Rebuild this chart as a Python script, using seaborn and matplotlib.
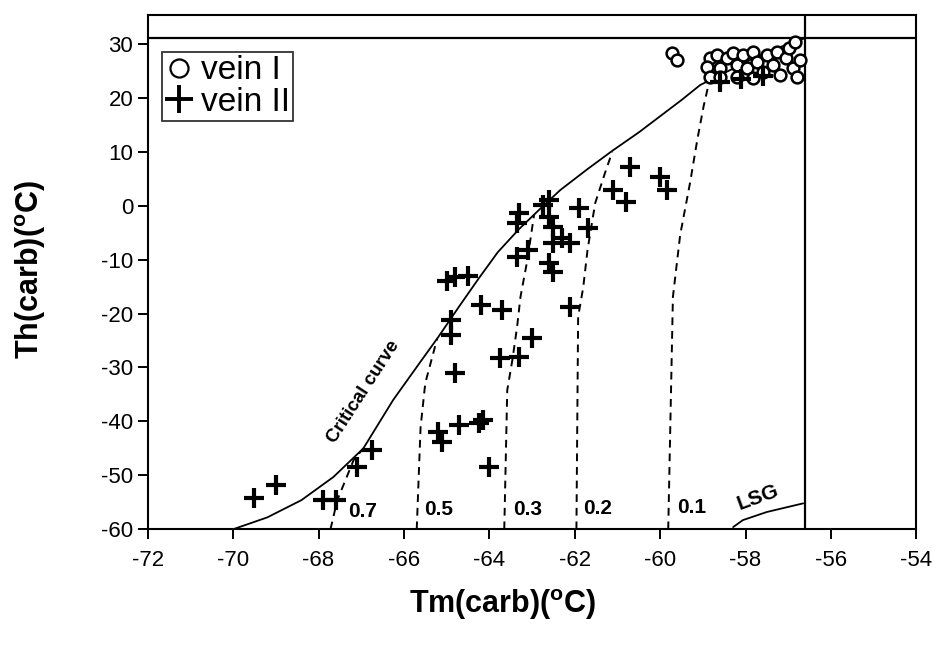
import numpy as np
import pandas as pd
import matplotlib
matplotlib.use("Agg")
import matplotlib.pyplot as plt
import seaborn as sns
from matplotlib.lines import Line2D

# ---------------- data ----------------
vein1_x = [-59.72, -59.60, -58.83, -58.90, -58.67, -58.60, -58.43, -58.29, -58.20, -58.06,
           -57.96, -57.82, -57.73, -57.59, -57.50, -57.36, -57.27, -57.19, -57.05, -56.98,
           -56.89, -56.80, -56.73, -56.84, -58.83, -58.60, -58.20, -57.82]
vein1_y = [28.3, 27.0, 27.4, 25.7, 28.0, 25.5, 27.4, 28.3, 26.1, 28.0,
           25.5, 28.5, 26.7, 24.8, 28.0, 26.1, 28.5, 24.2, 27.4, 29.3,
           25.5, 23.9, 27.0, 30.4, 23.9, 23.9, 23.9, 23.7]

vein2_x = [-69.5, -69.0, -67.9, -67.6, -67.1, -66.75,
           -65.2, -65.1, -64.7, -64.25, -64.15, -64.0,
           -64.8, -64.9, -64.9, -65.0, -64.8, -64.5,
           -64.2, -63.7, -63.0, -63.75, -63.3,
           -63.35, -63.1, -63.3, -63.35, -62.75, -62.6, -62.6,
           -62.5, -62.5, -62.6, -62.5, -62.3, -62.1, -62.1,
           -61.9, -61.7, -61.1, -60.8, -60.7, -60.0, -59.85,
           -58.6, -58.1, -57.6]
vein2_y = [-54.2, -51.8, -54.6, -54.6, -48.5, -45.3,
           -42.0, -43.8, -40.7, -40.3, -39.8, -48.5,
           -31.0, -21.2, -24.0, -14.0, -13.2, -13.0,
           -18.4, -19.4, -24.5, -28.3, -28.1,
           -9.5, -8.2, -1.4, -3.2, 0.1, 1.0, -2.1,
           -4.0, -7.0, -10.6, -12.3, -6.0, -6.9, -18.8,
           -0.4, -4.1, 2.9, 0.7, 7.2, 5.3, 2.9,
           23.0, 23.5, 24.0]

crit_x = [-70.0, -69.2, -68.4, -67.65, -66.95, -66.25, -65.6, -65.2, -64.7, -64.25,
          -63.8, -63.3, -62.8, -62.34, -61.7, -61.1, -60.5, -60.0, -59.5, -59.06,
          -58.4, -57.8, -57.2, -56.6]
crit_y = [-60.0, -57.8, -54.6, -50.3, -45.0, -36.0, -28.8, -24.4, -18.6, -13.5,
          -8.6, -4.3, -0.5, 2.9, 6.8, 10.3, 13.6, 16.6, 19.6, 22.4,
          25.0, 27.4, 29.4, 31.1]

iso07_x = [-67.72, -67.56, -67.37, -67.18, -66.95]
iso07_y = [-60.0, -54.6, -50.9, -47.2, -45.0]
iso05_x = [-65.70, -65.61, -65.50, -65.22]
iso05_y = [-60.0, -41.1, -32.9, -24.6]
iso03_x = [-63.65, -63.58, -63.46, -63.35, -63.27, -63.11, -62.95]
iso03_y = [-60.0, -34.2, -28.6, -22.5, -16.9, -10.1, -1.6]
iso02_x = [-61.96, -61.92, -61.80, -61.70, -61.52, -61.29, -61.12]
iso02_y = [-60.0, -20.6, -15.1, -8.2, 0.5, 6.1, 10.0]
iso01_x = [-59.81, -59.70, -59.53, -59.30, -59.13, -58.98, -58.85]
iso01_y = [-60.0, -16.9, -5.4, 4.2, 12.2, 18.5, 23.0]
lsg_x = [-58.29, -58.06, -57.50, -56.65]
lsg_y = [-59.6, -58.3, -56.8, -55.2]

iso_labels = ["0.7", "0.5", "0.3", "0.2", "0.1"]
iso_label_x = [-66.97, -65.19, -63.11, -61.47, -59.25]
iso_label_y = [-56.8, -56.3, -56.3, -56.1, -55.9]

triple_T = -56.6
crit_T = 31.1

x_ticks = list(range(-72, -53, 2))
y_ticks = list(range(-60, 31, 10))

# ---------------- figure ----------------
sns.set_theme(style="white")
plt.rcParams['font.family'] = ['Liberation Sans', 'DejaVu Sans']
for k in ['text.color', 'axes.labelcolor', 'xtick.color', 'ytick.color', 'axes.edgecolor']:
    plt.rcParams[k] = 'black'

fig = plt.figure(figsize=(9.35, 6.47), dpi=100)
ax = fig.add_axes([0.158, 0.182, 0.822, 0.795])

df1 = pd.DataFrame({"x": vein1_x, "y": vein1_y, "s": "vein I"})
df2 = pd.DataFrame({"x": vein2_x, "y": vein2_y, "s": "vein II"})

sns.lineplot(x=crit_x, y=crit_y, ax=ax, color="black", lw=1.3, sort=False)
for xs, ys in [(iso07_x, iso07_y), (iso05_x, iso05_y), (iso03_x, iso03_y),
               (iso02_x, iso02_y), (iso01_x, iso01_y)]:
    ax.plot(xs, ys, color="black", lw=1.4, ls=(0, (4, 3)))
ax.plot(lsg_x, lsg_y, color="black", lw=1.3)
ax.axhline(crit_T, color="black", lw=1.6)
ax.axvline(triple_T, color="black", lw=1.6)

sns.scatterplot(data=df1, x="x", y="y", ax=ax, marker="o", s=72,
                facecolor="white", edgecolor="black", linewidth=1.8, zorder=3)
sns.scatterplot(data=df2, x="x", y="y", ax=ax, marker="+", s=190,
                color="black", linewidth=3.0, zorder=4)

for t, xx, yy in zip(iso_labels, iso_label_x, iso_label_y):
    ax.text(xx, yy, t, fontsize=15, fontweight="bold", ha="center", va="center")
ax.text(-57.71, -54.2, "LSG", fontsize=15, fontweight="bold", ha="center",
        va="center", rotation=20)
ax.text(-66.95, -34.6, "Critical curve", fontsize=13.5, fontweight="bold",
        ha="center", va="center", rotation=57)

ax.set_xlim(-72, -54)
ax.set_ylim(-60, 35.4)
ax.set_xticks(x_ticks)
ax.set_yticks(y_ticks)
ax.set_xticklabels([str(v) for v in x_ticks])
ax.set_yticklabels([str(v) for v in y_ticks])
ax.tick_params(axis="both", direction="out", length=7, width=1.4, labelsize=16,
               colors="black", bottom=True, left=True)
ax.tick_params(axis="x", pad=8)
for sp in ax.spines.values():
    sp.set_color("black")
    sp.set_linewidth(1.5)

ax.set_xlabel(r"Tm(carb)($\mathregular{^o}$C)", fontsize=22, fontweight="bold")
ax.set_ylabel(r"Th(carb)($\mathregular{^o}$C)", fontsize=22, fontweight="bold")
ax.xaxis.set_label_coords(0.462, -0.112)
ax.yaxis.set_label_coords(-0.13, 0.505)

handles = [Line2D([], [], marker="o", ls="", markersize=13, markerfacecolor="white",
                  markeredgecolor="black", markeredgewidth=1.6),
           Line2D([], [], marker="+", ls="", markersize=20, color="black",
                  markeredgewidth=2.8)]
leg = ax.legend(handles, ["vein I", "vein II"], loc="upper left",
                bbox_to_anchor=(0.019, 0.928), fontsize=24, frameon=True,
                fancybox=False, handlelength=0.8, handletextpad=0.25,
                borderpad=0.1, labelspacing=0.02, borderaxespad=0)
leg.get_frame().set_edgecolor("black")
leg.get_frame().set_linewidth(1.3)

fig.savefig("out.png", dpi=100)
